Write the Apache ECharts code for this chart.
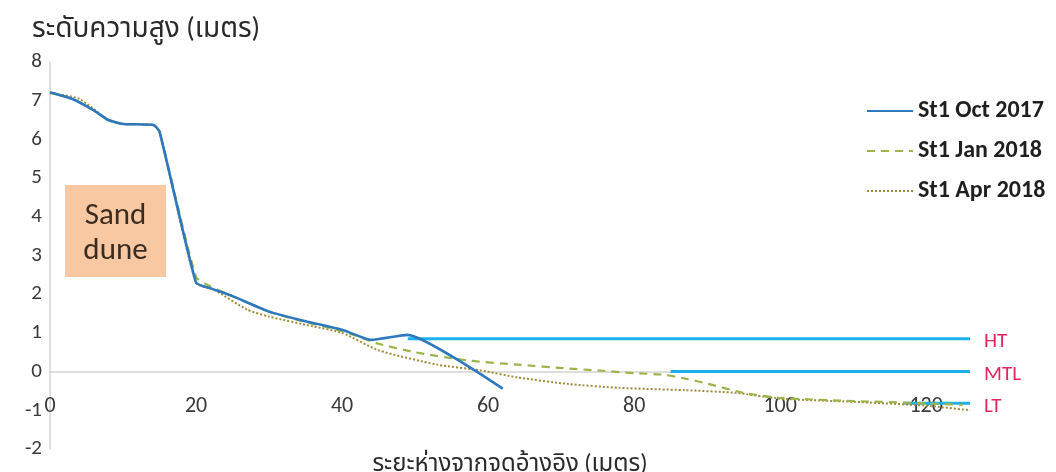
<!DOCTYPE html>
<html>
<head>
<meta charset="utf-8">
<script src="https://cdn.jsdelivr.net/npm/echarts@6/dist/echarts.min.js"></script>
<style>
  html, body { margin: 0; padding: 0; background: #fff; }
  #chart { width: 1056px; height: 472px; }
</style>
</head>
<body>
<div id="chart"></div>
<script>
// Beach profile, station St1: distance from reference point (m) vs elevation (m)
const seriesNames = ['St1 Oct 2017', 'St1 Jan 2018', 'St1 Apr 2018'];

const distOct = [0, 3, 6, 8, 10, 14.2, 15, 20, 22, 25, 30, 35, 40, 44, 49, 62];
const elevOct = [7.22, 7.05, 6.75, 6.5, 6.4, 6.37, 6.2, 2.3, 2.15, 1.95, 1.55, 1.3, 1.08, 0.82, 0.95, -0.44];

const distJan = [0, 3, 6, 8, 10, 14.2, 15, 20, 22, 25, 30, 35, 40, 45, 50, 57.5, 64, 71, 75, 80, 84, 87, 90, 95, 100, 110, 120, 125];
const elevJan = [7.2, 7.06, 6.75, 6.5, 6.4, 6.37, 6.2, 2.45, 2.2, 1.95, 1.55, 1.28, 1.05, 0.72, 0.5, 0.28, 0.18, 0.08, 0.03, -0.04, -0.08, -0.18, -0.31, -0.55, -0.68, -0.76, -0.82, -0.86];

const distApr = [0, 4, 8, 10, 14, 15, 20, 22.6, 27, 30, 36, 40, 45, 53, 59, 64, 71, 78, 87, 94, 100, 110, 120, 126];
const elevApr = [7.2, 7.05, 6.5, 6.4, 6.38, 6.2, 2.3, 2.1, 1.6, 1.42, 1.17, 1.0, 0.55, 0.18, 0.03, -0.15, -0.32, -0.42, -0.48, -0.55, -0.7, -0.78, -0.88, -1.0];

// Tide levels: high tide, mean tide level, low tide
const tideNames = ['HT', 'MTL', 'LT'];
const tideLevel = [0.85, 0, -0.82];
const tideFrom = [49, 85, 117];
const tideTo = [126, 126, 126];

const xTicks = [0, 20, 40, 60, 80, 100, 120];
const yTicks = [-2, -1, 0, 1, 2, 3, 4, 5, 6, 7, 8];

const zip = (xs, ys) => xs.map((x, i) => [x, ys[i]]);

const FONT = 'Calibri, Carlito, "Open Sans", "Noto Sans", "Noto Sans Thai", Tahoma, sans-serif';

const chart = echarts.init(document.getElementById('chart'));

const tideSeries = tideNames.map((name, i) => ({
  name: name,
  type: 'line',
  data: [[tideFrom[i], tideLevel[i]], [tideTo[i], tideLevel[i]]],
  symbol: 'none',
  silent: true,
  z: 3,
  lineStyle: { color: '#1cb0ec', width: 3 },
  endLabel: {
    show: true,
    formatter: name,
    color: '#e5265e',
    fontSize: 21,
    fontFamily: FONT,
    distance: 14,
    offset: [0, 3]
  }
}));

chart.setOption({
  animation: false,
  backgroundColor: '#ffffff',
  textStyle: { fontFamily: FONT },
  grid: {
    left: 50, top: 62, width: 920, height: 387,
    containLabel: false,
    outerBounds: { left: -200, top: -200, right: -200, bottom: -300 }
  },
  legend: {
    data: seriesNames,
    orient: 'vertical',
    left: 861,
    top: 94,
    itemGap: 16,
    itemWidth: 46,
    itemHeight: 14,
    itemStyle: { opacity: 0 },
    textStyle: { fontSize: 24, fontWeight: 'bold', color: '#1f1f1f', fontFamily: FONT }
  },
  xAxis: {
    type: 'value',
    min: 0,
    max: 126,
    interval: 20,
    name: 'ระยะห่างจากจุดอ้างอิง (เมตร)',
    nameLocation: 'middle',
    nameGap: 16,
    nameTextStyle: { fontSize: 24, color: '#2a2a2a', verticalAlign: 'middle' },
    axisLine: { onZero: true, lineStyle: { color: '#d4d4d4', width: 1.5 } },
    axisTick: { show: false },
    splitLine: { show: false },
    // tick labels sit just under the zero line, above the bottom of the plot
    axisLabel: { fontSize: 22, color: '#3a3a3a', margin: -54, showMaxLabel: false,
      formatter: v => (xTicks.indexOf(v) >= 0 ? String(v) : '') }
  },
  yAxis: {
    type: 'value',
    min: -2,
    max: 8,
    interval: 1,
    name: 'ระดับความสูง (เมตร)',
    nameLocation: 'end',
    nameGap: 18,
    nameTextStyle: { fontSize: 28, color: '#2a2a2a', align: 'left', padding: [0, 0, 0, -18] },
    axisLine: { show: true, lineStyle: { color: '#d4d4d4', width: 1.5 } },
    axisTick: { show: false },
    splitLine: { show: false },
    axisLabel: { fontSize: 21, color: '#3a3a3a', margin: 8,
      formatter: v => (yTicks.indexOf(v) >= 0 ? String(v) : '') }
  },
  series: [
    ...tideSeries,
    {
      name: seriesNames[2],
      type: 'line',
      data: zip(distApr, elevApr),
      symbol: 'none',
      smooth: 0.2,
      z: 4,
      itemStyle: { color: '#a08c3a' },
      lineStyle: { color: '#a08c3a', width: 2, type: [2, 2] }
    },
    {
      name: seriesNames[1],
      type: 'line',
      data: zip(distJan, elevJan),
      symbol: 'none',
      smooth: 0.2,
      z: 5,
      itemStyle: { color: '#9bb54a' },
      lineStyle: { color: '#9bb54a', width: 2.2, type: [8, 6] }
    },
    {
      name: seriesNames[0],
      type: 'line',
      data: zip(distOct, elevOct),
      symbol: 'none',
      smooth: 0.15,
      z: 6,
      itemStyle: { color: '#2e78bd' },
      lineStyle: { color: '#2e78bd', width: 2.6 }
    }
  ],
  graphic: [
    {
      type: 'group',
      left: 65,
      top: 185,
      children: [
        { type: 'rect', shape: { x: 0, y: 0, width: 101, height: 92 }, style: { fill: '#f7c8a2' } },
        {
          type: 'text',
          style: {
            x: 50.5, y: 49, text: 'Sand\ndune', align: 'center', verticalAlign: 'middle',
            fontSize: 31, lineHeight: 35, fill: '#3a2c20', fontFamily: FONT
          }
        }
      ]
    }
  ]
});
</script>
</body>
</html>
